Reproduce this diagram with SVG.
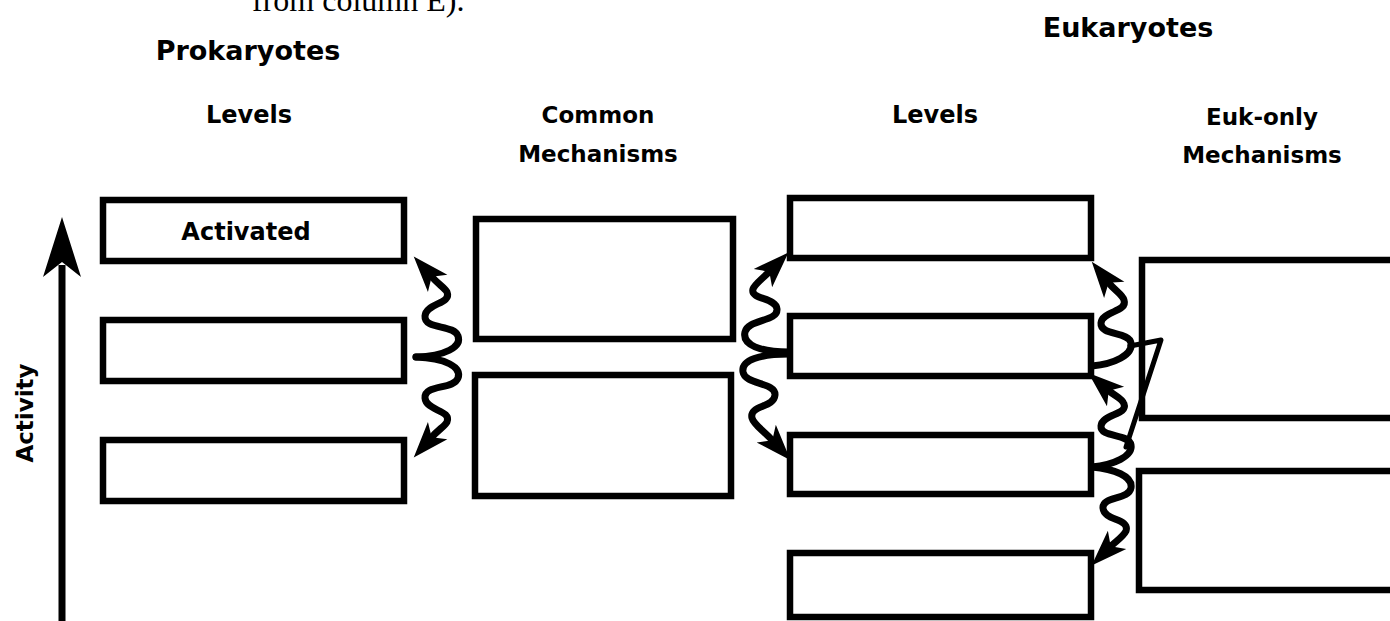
<svg xmlns="http://www.w3.org/2000/svg" width="1390" height="621" viewBox="0 0 1390 621">
<style>
.box{fill:#fff;stroke:#000;stroke-width:6.5}
.wave{fill:none;stroke:#000;stroke-width:7;stroke-linecap:round;stroke-linejoin:round}
.h{font-family:"DejaVu Sans","Liberation Sans",sans-serif;font-weight:bold;font-size:27px;fill:#000;text-anchor:middle}
.c{font-family:"DejaVu Sans","Liberation Sans",sans-serif;font-weight:bold;font-size:23px;fill:#000;text-anchor:middle}
.serif{font-family:"Liberation Serif","Times New Roman",serif;font-size:32px;fill:#000}
</style>
<defs>
<marker id="ah" markerUnits="userSpaceOnUse" viewBox="0 -15 40 30" markerWidth="40" markerHeight="30" refX="10" refY="0" orient="auto">
<path d="M36,0 L0,-13 L9,0 L0,13 Z" fill="#000"/>
</marker>
</defs>
<rect width="1390" height="621" fill="#fff"/>
<text class="serif" x="252" y="11">from column E).</text>
<text class="h" x="248" y="60">Prokaryotes</text>
<text class="h" x="1128" y="37">Eukaryotes</text>
<text class="c" x="249" y="123" style="font-size:24px">Levels</text>
<text class="c" x="598" y="123">Common</text>
<text class="c" x="598" y="162">Mechanisms</text>
<text class="c" x="935" y="123" style="font-size:24px">Levels</text>
<text class="c" x="1262" y="125">Euk-only</text>
<text class="c" x="1262" y="163">Mechanisms</text>
<g id="activity-axis">
<line x1="62" y1="625" x2="62" y2="265" stroke="#000" stroke-width="7"/>
<path d="M62,217 L81,277 L62,262 L43,277 Z" fill="#000"/>
<text class="c" transform="translate(33,413) rotate(-90)">Activity</text>
</g>
<g id="prok-level-1"><rect class="box" x="103" y="200" width="301" height="61"/><text class="c" x="246" y="240" style="font-size:24px">Activated</text></g>
<g id="prok-level-2"><rect class="box" x="103" y="320" width="301" height="61"/></g>
<g id="prok-level-3"><rect class="box" x="103" y="440" width="301" height="61"/></g>
<g id="common-mech-1"><rect class="box" x="476" y="219" width="257" height="120"/></g>
<g id="common-mech-2"><rect class="box" x="475" y="375" width="256" height="121"/></g>
<g id="euk-level-1"><rect class="box" x="790" y="198" width="301" height="60"/></g>
<g id="euk-level-2"><rect class="box" x="790" y="316" width="301" height="60"/></g>
<g id="euk-level-3"><rect class="box" x="790" y="435" width="301" height="59"/></g>
<g id="euk-level-4"><rect class="box" x="790" y="553" width="301" height="64"/></g>
<g id="euk-mech-1"><rect class="box" x="1142" y="260" width="300" height="158"/></g>
<g id="euk-mech-2"><rect class="box" x="1139" y="471" width="300" height="119"/></g>
<g id="connectors">
<path class="wave" marker-end="url(#ah)" d="M416,357 C445,356 462,347 458,336 C454,324 424,330 425,316 C426,303 452,304 447,292 C445,288 439,285 431,276"/>
<path class="wave" marker-end="url(#ah)" d="M416,357 C445,358 462,367 458,378 C454,390 424,384 425,398 C426,411 452,410 447,422 C445,426 439,429 431,438"/>
<path class="wave" marker-end="url(#ah)" d="M789,352 C760,352 742,345 745,332 C748,319 778,322 777,309 C776,297 750,300 753,289 C755,284 760,281 770,271"/>
<path class="wave" marker-end="url(#ah)" d="M789,354 C760,354 741,360 743,372 C745,385 776,382 775,395 C774,408 749,405 752,418 C754,425 762,429 773,441"/>
<path class="wave" marker-end="url(#ah)" d="M1092,366 C1114,364 1133,355 1131,343 C1129,331 1100,336 1101,323 C1102,311 1128,312 1124,300 C1122,294 1116,292 1108,282"/>
<path class="wave" marker-end="url(#ah)" d="M1092,467 C1114,465 1133,456 1131,445 C1129,433 1100,438 1101,426 C1102,414 1128,415 1124,404 C1122,398 1116,397 1108,390"/>
<path class="wave" marker-end="url(#ah)" d="M1092,467 C1114,469 1133,476 1131,488 C1129,500 1102,496 1103,508 C1104,521 1130,518 1126,531 C1123,537 1116,541 1110,547"/>
<polyline class="wave" style="stroke-width:5" points="1130,346 1161,340 1126,447"/>
</g>
</svg>
